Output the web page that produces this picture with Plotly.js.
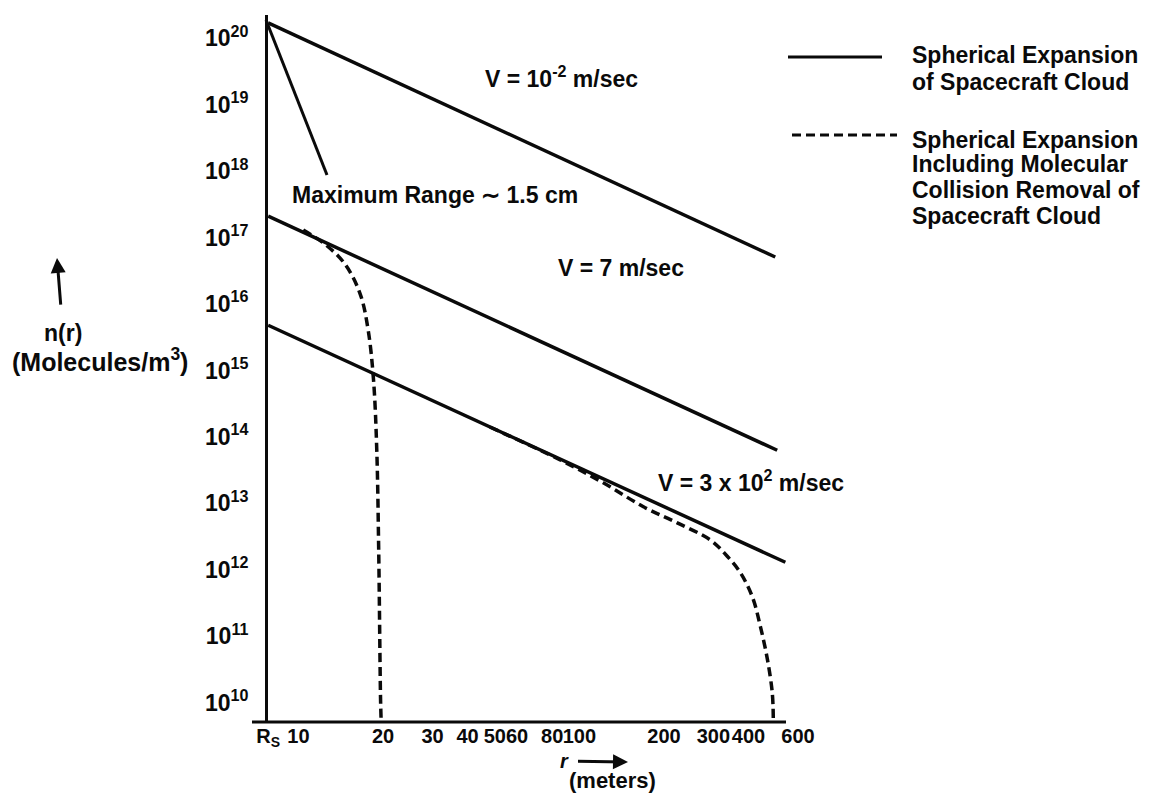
<!DOCTYPE html>
<html><head><meta charset="utf-8">
<script src="https://cdn.plot.ly/plotly-3.0.1.min.js"></script>
<style>html,body{margin:0;padding:0;background:#fff;}#chart{width:1154px;height:798px;}</style>
</head><body><div id="chart"></div>
<script>
// ---- data ----
const xTickVals = [7.8, 10, 20, 30, 40, 50, 60, 80, 100, 200, 300, 400, 600];
const xTickText = ['R<sub>S</sub>', '10', '20', '30', '40', '50', '60', '80', '100', '200', '300', '400', '600'];
const yTickVals = [1e10, 1e11, 1e12, 1e13, 1e14, 1e15, 1e16, 1e17, 1e18, 1e19, 1e20];
const yTickText = ['10<sup>10</sup>', '10<sup>11</sup>', '10<sup>12</sup>', '10<sup>13</sup>', '10<sup>14</sup>',
                   '10<sup>15</sup>', '10<sup>16</sup>', '10<sup>17</sup>', '10<sup>18</sup>', '10<sup>19</sup>', '10<sup>20</sup>'];

// Spherical expansion (solid lines)
const r_v1 = [7.8, 498];   const n_v1 = [1.7e20, 5.1e16];   // V = 10^-2 m/sec
const r_v2 = [7.8, 506];   const n_v2 = [2.1e17, 6.3e13];   // V = 7 m/sec
const r_v3 = [7.8, 541];   const n_v3 = [4.8e15, 1.3e12];   // V = 3 x 10^2 m/sec

// Including molecular collision removal (dashed)
const r_c2 = [10.4, 12.5, 14.7, 16.6, 17.7, 18.5, 19.0, 19.3, 19.6, 19.7];
const n_c2 = [1.3e17, 7.8e16, 3.9e16, 1.4e16, 4.1e15, 7.2e14, 6.3e13, 2.0e12, 1.1e10, 5.1e9];
const r_c3 = [48, 85.5, 121.6, 169, 223, 293, 336, 374, 413, 441, 467, 486, 490];
const n_c3 = [1.41e14, 4.5e13, 2.04e13, 8.9e12, 5.1e12, 2.8e12, 1.6e12, 9.1e11, 3.9e11, 1.4e11, 4.5e10, 1.4e10, 5.9e9];

// ---- drawing ----
const INK = '#0a0a0a';
const L = 268, T = 15, W = 532, H = 707;
const px = (x) => (x - L) / W;
const py = (y) => (T + H - y) / H;

const solid = {color: INK, width: 3.5};
const dashed = {color: INK, width: 3.5, dash: '9px,5px', shape: 'spline'};

const traces = [
  {x: r_v1, y: n_v1, mode: 'lines', line: solid, name: 'V = 10^-2 m/sec'},
  {x: r_v2, y: n_v2, mode: 'lines', line: solid, name: 'V = 7 m/sec'},
  {x: r_v3, y: n_v3, mode: 'lines', line: solid, name: 'V = 3 x 10^2 m/sec'},
  {x: r_c2, y: n_c2, mode: 'lines', line: dashed, name: 'collision removal, V = 7'},
  {x: r_c3, y: n_c3, mode: 'lines', line: dashed, name: 'collision removal, V = 300'}
];

const F = {family: 'Liberation Sans', size: 23, color: INK, weight: 'bold'};
function txt(text, x, y, opts) {
  return Object.assign({text: text, xref: 'paper', yref: 'paper', x: px(x), y: py(y),
    xanchor: 'center', yanchor: 'middle', showarrow: false, font: F}, opts || {});
}

const annotations = [
  txt('V = 10<sup>-2</sup> m/sec', 561, 77),
  txt('V = 7 m/sec', 621, 268),
  txt('V = 3 x 10<sup>2</sup> m/sec', 751, 481),
  txt('Maximum Range ∼ 1.5 cm', 435, 195),
  txt('Spherical Expansion', 910, 55, {xanchor: 'left'}),
  txt('of Spacecraft Cloud', 910, 82, {xanchor: 'left'}),
  txt('Spherical Expansion', 910, 140, {xanchor: 'left'}),
  txt('Including Molecular', 910, 164, {xanchor: 'left'}),
  txt('Collision Removal of', 910, 190, {xanchor: 'left'}),
  txt('Spacecraft Cloud', 910, 216, {xanchor: 'left'}),
  txt('(Molecules/m<sup>3</sup>)', 100, 360, {font: Object.assign({}, F, {size: 25})}),
  txt('(meters)', 612, 781, {font: Object.assign({}, F, {size: 22})}),
  // n(r) with its upward arrow
  {text: 'n(r)', xref: 'paper', yref: 'paper', x: px(57), y: py(258), ax: 6, ay: 75,
   axref: 'pixel', ayref: 'pixel', showarrow: true, arrowhead: 2, arrowsize: 1, arrowwidth: 3,
   arrowcolor: INK, startstandoff: 14, font: F},
  // r with its rightward arrow
  {text: '<i>r</i>', xref: 'paper', yref: 'paper', x: px(628), y: py(762), ax: -64, ay: -1,
   axref: 'pixel', ayref: 'pixel', showarrow: true, arrowhead: 2, arrowsize: 1, arrowwidth: 3,
   arrowcolor: INK, startstandoff: 8, font: Object.assign({}, F, {size: 20})}
];

const shapes = [
  // x axis line (ends before the 600 label, as in the reference)
  {type: 'line', xref: 'paper', yref: 'paper', x0: px(252), x1: px(786), y0: 0, y1: 0,
   line: {color: INK, width: 3}},
  // pointer for "Maximum Range"
  {type: 'line', xref: 'paper', yref: 'paper', x0: px(266), y0: py(20), x1: px(327), y1: py(175),
   line: {color: INK, width: 3}},
  // legend samples
  {type: 'line', xref: 'paper', yref: 'paper', x0: px(788), x1: px(882), y0: py(57), y1: py(57),
   line: {color: INK, width: 3}},
  {type: 'line', xref: 'paper', yref: 'paper', x0: px(792), x1: px(897), y0: py(135), y1: py(135),
   line: {color: INK, width: 3, dash: '9px,5px'}}
];

const layout = {
  width: 1154, height: 798,
  margin: {l: L, r: 1154 - L - W, t: T, b: 798 - T - H, pad: 0},
  paper_bgcolor: '#fff', plot_bgcolor: '#fff',
  showlegend: false,
  xaxis: {type: 'log', range: [Math.log10(7.79), Math.log10(610)], tickvals: xTickVals, ticktext: xTickText,
          tickangle: 0, ticks: '', showgrid: false, zeroline: false, showline: false,
          tickfont: {family: 'Liberation Sans', size: 20, color: INK, weight: 'bold'}},
  yaxis: {type: 'log', range: [9.71, 20.35], tickvals: yTickVals, ticktext: yTickText,
          ticks: '', showgrid: false, zeroline: false, showline: true, linewidth: 3, linecolor: INK,
          ticklabelstandoff: 12,
          tickfont: {family: 'Liberation Sans', size: 23, color: INK, weight: 'bold'}},
  annotations: annotations,
  shapes: shapes
};

Plotly.newPlot('chart', traces, layout, {displayModeBar: false, staticPlot: true});
</script>
</body></html>
